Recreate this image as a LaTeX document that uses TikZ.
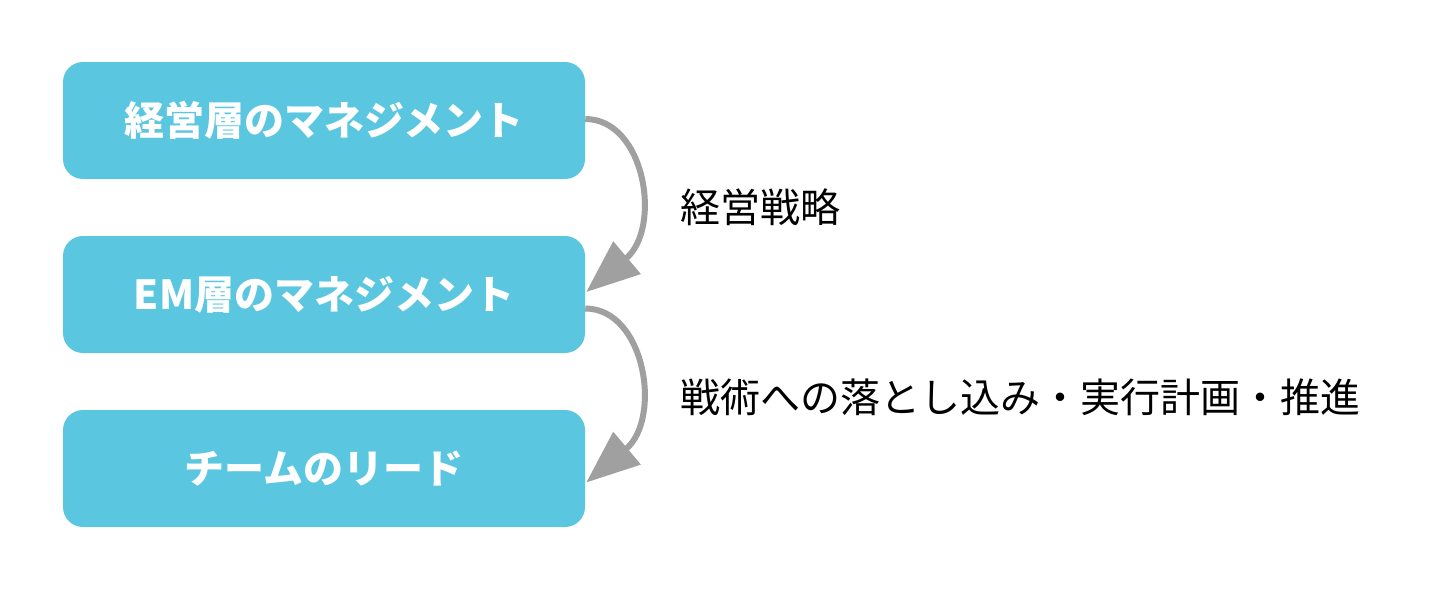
\documentclass[tikz,border=0pt]{standalone}
\usepackage{fontspec}
\newfontfamily\jp{Noto Sans CJK JP}
\usetikzlibrary{arrows.meta,calc}
\definecolor{boxblue}{HTML}{5BC6E0}
\definecolor{arrowgray}{HTML}{A0A0A0}
\tikzset{
  box/.style={fill=boxblue, draw=none, rounded corners=15pt,
    minimum width=391.5pt, minimum height=87.75pt, inner sep=0pt,
    text=white, font=\jp\bfseries\fontsize{30pt}{36pt}\selectfont},
  label/.style={anchor=west, inner sep=0pt, text=black,
    font=\jp\fontsize{30pt}{36pt}\selectfont},
  flow/.style={draw=arrowgray, line width=4.5pt,
    -{Triangle[length=40pt,width=31pt]}}
}
\begin{document}
\begin{tikzpicture}[x=0.75pt,y=-0.75pt]
\useasboundingbox[fill=white] (0,0) rectangle (1440,594);
\node[box] (b1) at (324,120.5) {経営層のマネジメント};
\node[box] (b2) at (324,294.5) {EM層のマネジメント};
\node[box] (b3) at (324,468.5) {チームのリード};
\node[label] (l1) at (680,207) {経営戦略};
\node[label] (l2) at (680,397) {戦術への落とし込み・実行計画・推進};
\coordinate (s1) at ($(b1.east)+(0,-1.5)$);
\coordinate (e1) at ($(b2.east)+(1,-2.5)$);
\coordinate (s2) at ($(b2.east)+(0,14)$);
\coordinate (e2) at ($(b3.east)+(1,14)$);
\draw[flow] (s1) .. controls +(60,0) and +(76,-64) .. (e1);
\draw[flow] (s2) .. controls +(60,0) and +(76,-64) .. (e2);
\end{tikzpicture}
\end{document}
